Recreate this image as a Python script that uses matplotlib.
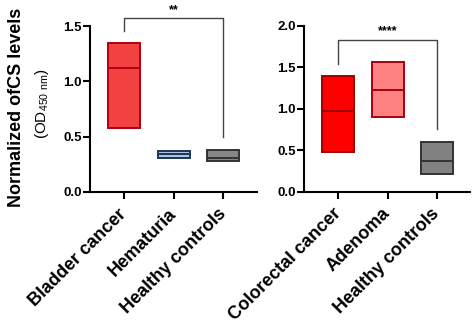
import matplotlib.pyplot as plt

plt.rcParams['font.family'] = ['Liberation Sans', 'DejaVu Sans']

# left panel: urine samples
bc_groups = ['Bladder cancer', 'Hematuria', 'Healthy controls']
bc_low = [0.58, 0.31, 0.28]
bc_high = [1.35, 0.37, 0.38]
bc_median = [1.12, 0.34, 0.31]
bc_fill = ['#F24242', '#A9C6E6', '#878787']
bc_edge = ['#B00012', '#1E3552', '#333333']

# right panel: stool samples
crc_groups = ['Colorectal cancer', 'Adenoma', 'Healthy controls']
crc_low = [0.475, 0.895, 0.215]
crc_high = [1.39, 1.56, 0.60]
crc_median = [0.97, 1.225, 0.37]
crc_fill = ['#FF0000', '#FF8282', '#828282']
crc_edge = ['#A00000', '#A80010', '#333333']

fig = plt.figure(figsize=(4.74, 3.35), dpi=100)
ax1 = fig.add_axes([0.190, 0.427, 0.352, 0.495])
ax2 = fig.add_axes([0.642, 0.428, 0.350, 0.495])


def draw_panel(ax, groups, low, high, med, fills, edges, ymax, bracket):
    w = 0.65
    xs = list(range(len(groups)))
    heights = [h - l for h, l in zip(high, low)]
    ax.bar(xs, heights, bottom=low, width=w, color=fills, edgecolor=edges,
           linewidth=1.4, zorder=2)
    for x, m, ec in zip(xs, med, edges):
        ax.plot([x - w / 2, x + w / 2], [m, m], color=ec, lw=1.4, zorder=3,
                solid_capstyle='butt')
    ax.set_xlim(-0.69, 2.68)
    ax.set_ylim(0, ymax)
    ax.set_yticks([i * 0.5 for i in range(int(ymax / 0.5) + 1)])
    ax.set_yticklabels([f'{i * 0.5:.1f}' for i in range(int(ymax / 0.5) + 1)],
                       fontsize=9.5, fontweight='bold')
    ax.set_xticks(xs)
    ax.set_xticklabels(groups, rotation=45, ha='right', va='center',
                       rotation_mode='anchor', fontsize=13, fontweight='bold')
    for s in ['top', 'right']:
        ax.spines[s].set_visible(False)
    for s in ['left', 'bottom']:
        ax.spines[s].set_linewidth(1.5)
    ax.tick_params(axis='both', width=1.5, length=5, direction='out')
    ax.tick_params(axis='x', pad=9)
    ax.tick_params(axis='y', pad=1)
    # significance bracket
    ytop, yl, yr, stars = bracket
    ax.plot([0, 0, 2, 2], [yl, ytop, ytop, yr], color='#444444', lw=1.0,
            clip_on=False, zorder=1)
    ax.text(1, ytop + ymax * 0.015, stars, ha='center', va='bottom',
            fontsize=9, fontweight='bold', clip_on=False)


draw_panel(ax1, bc_groups, bc_low, bc_high, bc_median, bc_fill, bc_edge, 1.5,
           (1.57, 1.46, 0.50, '**'))
draw_panel(ax2, crc_groups, crc_low, crc_high, crc_median, crc_fill, crc_edge, 2.0,
           (1.83, 1.54, 0.75, '****'))

fig.text(0.034, 0.68, 'Normalized ofCS levels', rotation=90, ha='center',
         va='center', fontsize=13, fontweight='bold')
fig.text(0.089, 0.69, r'(OD$_{\mathregular{450\ nm}}$)', rotation=90,
         ha='center', va='center', fontsize=11)

fig.savefig('out.png', dpi=100)
